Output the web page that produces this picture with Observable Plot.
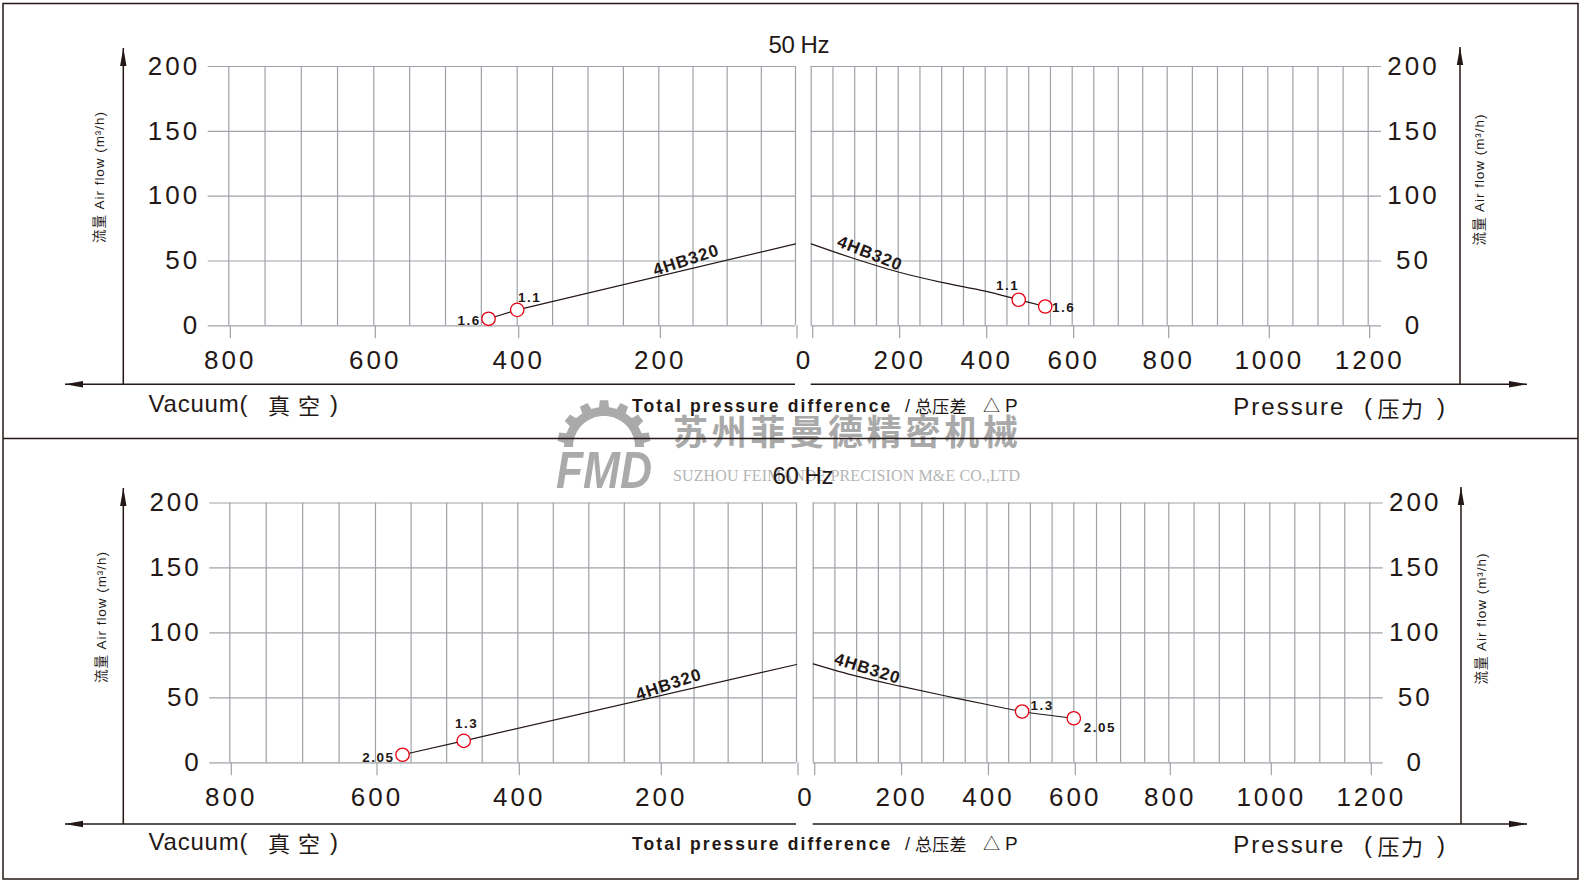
<!DOCTYPE html>
<html lang="zh">
<head>
<meta charset="utf-8">
<title>4HB320 风量曲线</title>
<script src="https://cdn.jsdelivr.net/npm/d3@7"></script>
<script src="https://cdn.jsdelivr.net/npm/@observablehq/plot@0.6"></script>
<style>
  html, body { margin: 0; padding: 0; background: #fff; }
  #chart { position: relative; width: 1581px; height: 881px; overflow: hidden; background: #fff;
           font-family: "Liberation Sans", Arial, "Noto Sans CJK SC", sans-serif; }
  #chart svg { position: absolute; }
  #chart g[aria-label$="tick label"] { letter-spacing: 3px; }
  #chart g[font-size="13.5"] { letter-spacing: 1.5px; }
  #chart g[font-size="17"] { letter-spacing: 1px; }
</style>
</head>
<body>
<div id="chart"></div>
<script>
const ink = "#231815";
const gridColor = "#9ea2a8";
const markerRed = "#e60012";
const fontStack = '"Liberation Sans", Arial, "Noto Sans CJK SC", sans-serif';

// ---- axes ----
const flowTicks = [0, 50, 100, 150, 200];
const vacuumTickLabels = [800, 600, 400, 200, 0];
const pressureTickLabels = [0, 200, 400, 600, 800, 1000, 1200];
const vacuumGrid = d3.range(0, 801, 50);
const pressureGrid = d3.range(0, 1201, 50);

const model = "4HB320";

// ---- 50 Hz: pressure difference vs air flow (m³/h) ----
const vacuum50 = [0, 400, 440];
const vacuumFlow50 = [63.2, 12.3, 5.4];
const vacuumRated50 = [400, 440];
const vacuumPower50 = ["1.1", "1.6"];

const pressure50 = [0, 100, 200, 300, 400, 477, 538];
const pressureFlow50 = [63.2, 51.7, 41.5, 33.5, 26.7, 20.1, 14.9];
const pressureRated50 = [477, 538];
const pressurePower50 = ["1.1", "1.6"];

// ---- 60 Hz ----
const vacuum60 = [0, 476, 562];
const vacuumFlow60 = [75.7, 16.9, 6.2];
const vacuumRated60 = [476, 562];
const vacuumPower60 = ["1.3", "2.05"];

const pressure60 = [0, 100, 200, 300, 400, 481, 600];
const pressureFlow60 = [76.2, 66.7, 59, 51.8, 44.9, 39.5, 34.3];
const pressureRated60 = [481, 600];
const pressurePower60 = ["1.3", "2.05"];

// ---- page layout ----
const W = 1581, H = 881, splitX = 803, splitY = 438;
const chart = d3.select("#chart");

// background layer: watermark, border, axis arrows, titles
const deco = chart.append("svg").attr("width", W).attr("height", H)
  .style("left", "0px").style("top", "0px");

// watermark (company logo and name)
const wm = deco.append("g").attr("fill", "#aaaaaa");
{
  const cx = 604, cy = 447, Ro = 47, Rt = 40, Ri = 31, n = 7, pitch = Math.PI / n;
  const pts = [];
  for (let i = 0; i < n; i++) {
    const a0 = Math.PI + i * pitch;
    const seg = [[a0, Rt], [a0 + pitch * 0.22, Rt], [a0 + pitch * 0.3, Ro], [a0 + pitch * 0.7, Ro], [a0 + pitch * 0.78, Rt]];
    for (const [a, r] of seg) pts.push([cx + r * Math.cos(a), cy + r * Math.sin(a)]);
  }
  pts.push([cx + Rt, cy]);
  for (let k = 0; k <= 36; k++) {
    const a = 2 * Math.PI - (k / 36) * Math.PI;
    pts.push([cx + Ri * Math.cos(a), cy + Ri * Math.sin(a)]);
  }
  wm.append("path").attr("d", "M" + pts.map(p => p.join(",")).join("L") + "Z");
  wm.append("text").attr("x", 556).attr("y", 488).attr("font-size", 52).attr("font-weight", "bold")
    .attr("font-style", "italic").attr("textLength", 96).attr("lengthAdjust", "spacingAndGlyphs")
    .attr("font-family", '"Liberation Sans", Arial, sans-serif').text("FMD");
  wm.append("text").attr("x", 673).attr("y", 445).attr("font-size", 35).attr("font-weight", "bold")
    .attr("fill", "#a9a9a9").attr("textLength", 345).attr("font-family", '"Noto Sans CJK SC", sans-serif')
    .text("苏州菲曼德精密机械");
  wm.append("text").attr("x", 673).attr("y", 481).attr("font-size", 16).attr("fill", "#b5b5b5")
    .attr("textLength", 347).attr("font-family", '"Liberation Serif", "Times New Roman", serif')
    .text("SUZHOU FEIMANDE PRECISION M&E CO.,LTD");
}

// outer border and panel separator
deco.append("rect").attr("x", 3).attr("y", 3.5).attr("width", 1575).attr("height", 875.5)
  .attr("fill", "none").attr("stroke", ink).attr("stroke-width", 1.5);
deco.append("line").attr("x1", 3).attr("x2", 1578).attr("y1", 438.5).attr("y2", 438.5)
  .attr("stroke", ink).attr("stroke-width", 1.4);

function arrowHead(x, y, dir) {
  const L = 18, w = 3.2;
  const p = dir === "up" ? [[x, y], [x - w, y + L], [x + w, y + L]]
          : dir === "left" ? [[x, y], [x + L, y - w], [x + L, y + w]]
          : [[x, y], [x - L, y - w], [x - L, y + w]];
  deco.append("path").attr("d", "M" + p.map(q => q.join(",")).join("L") + "Z").attr("fill", ink);
}
function seg(x1, y1, x2, y2) {
  deco.append("line").attr("x1", x1).attr("y1", y1).attr("x2", x2).attr("y2", y2)
    .attr("stroke", ink).attr("stroke-width", 1.5);
}
// one text element built from positioned runs
function runs(y, size, parts, o = {}) {
  const t = deco.append("text").attr("y", y).attr("fill", ink).attr("font-size", size)
    .attr("font-family", fontStack);
  if (o.anchor) t.attr("text-anchor", o.anchor);
  for (const p of parts) {
    const s = t.append("tspan").attr("x", p.x).text(p.s);
    if (p.size) s.attr("font-size", p.size);
    if (p.weight) s.attr("font-weight", p.weight);
    if (p.ls !== undefined) s.attr("letter-spacing", p.ls);
    if (p.dy !== undefined) s.attr("dy", p.dy);
  }
  return t;
}

const panelFrames = [
  {hz: "50 Hz", hzX: 799, hzY: 53, axisY: 384.3, tipL: 48, tipR: 47, leftEnd: 795, rightStart: 810.7,
   axL: 123.3, axR: 1460, vacBase: 411.5, totBase: 412, presBase: 415, flowTitle: [[99, 177.5], [1479, 180]]},
  {hz: "60 Hz", hzX: 803, hzY: 484, axisY: 824, tipL: 488, tipR: 487, leftEnd: 796, rightStart: 812.7,
   axL: 123.3, axR: 1461, vacBase: 850, totBase: 849.5, presBase: 853, flowTitle: [[101, 617.5], [1481, 619]]}
];

for (const f of panelFrames) {
  // axis lines with arrows
  seg(65, f.axisY, f.leftEnd, f.axisY); arrowHead(65, f.axisY, "left");
  seg(f.rightStart, f.axisY, 1527, f.axisY); arrowHead(1527, f.axisY, "right");
  seg(f.axL, f.tipL, f.axL, f.axisY); arrowHead(f.axL, f.tipL, "up");
  seg(f.axR, f.tipR, f.axR, f.axisY); arrowHead(f.axR, f.tipR, "up");

  // frequency title
  deco.append("text").attr("x", f.hzX).attr("y", f.hzY).attr("text-anchor", "middle")
    .attr("font-size", 24).attr("font-family", fontStack).attr("fill", ink)
    .attr("textLength", 61).attr("lengthAdjust", "spacing").text(f.hz);

  // bottom titles
  runs(f.vacBase, 24, [
    {s: "Vacuum(", x: 148.5, ls: 0.8},
    {s: "真", x: 268, size: 22, dy: 2},
    {s: "空", x: 298, size: 22},
    {s: ")", x: 330, dy: -2}
  ]);
  runs(f.totBase, 17.5, [
    {s: "Total pressure difference", x: 632, weight: "bold", ls: 2.1},
    {s: "/", x: 905, size: 18},
    {s: "总压差", x: 915, size: 17, ls: 0.3, dy: 1},
    {s: "△", x: 983, size: 17, dy: -1},
    {s: "P", x: 1005, size: 19}
  ]);
  runs(f.presBase, 24, [
    {s: "Pressure", x: 1233.3, ls: 2},
    {s: "(", x: 1364},
    {s: "压", x: 1377.5, size: 22, dy: 2},
    {s: "力", x: 1401, size: 22},
    {s: ")", x: 1437, dy: -2}
  ]);

  // airflow titles, rotated
  for (const [cx, cy] of f.flowTitle) {
    deco.append("text").attr("transform", `translate(${cx},${cy}) rotate(-90)`)
      .attr("text-anchor", "middle").attr("dominant-baseline", "central")
      .attr("font-size", 13.5).attr("font-family", fontStack).attr("fill", ink)
      .attr("textLength", 131).attr("lengthAdjust", "spacing")
      .text("流量 Air flow (m³/h)");
  }
}

// ---- one Plot per half panel ----
function sidePlot(cfg) {
  const {box, xDomain, xRange, frame, yRange, grid, ticks, zeroDx, yAnchor,
         xs, ys, curve, rated, power, placements, modelAt, modelRotate} = cfg;
  const [bx, by, bw, bh] = box;
  const line = xs.map((x, i) => ({x, y: ys[i]}));
  const points = rated.map((x, i) => ({x, y: ys[xs.indexOf(x)], label: power[i]}));
  const flowAt = d3.scaleLinear().domain(xs).range(ys);
  const fmt = d => (d === 0 ? "" : String(d));
  const marks = [
    Plot.gridX(grid, {stroke: gridColor, strokeOpacity: 1, strokeWidth: 1.2}),
    Plot.gridY(flowTicks, {stroke: gridColor, strokeOpacity: 1, strokeWidth: 1.2}),
    Plot.axisX(ticks, {anchor: "bottom", tickSize: 13, tickPadding: 12, fontSize: 26, stroke: gridColor,
      strokeWidth: 1.2, fill: ink, dx: 1.5, label: null, tickFormat: fmt}),
    Plot.axisY(flowTicks, {anchor: yAnchor, tickSize: 0, tickPadding: yAnchor === "left" ? 8 : 32,
      textAnchor: yAnchor === "left" ? "end" : "middle", fontSize: 26, fill: ink, label: null,
      tickFormat: d => String(d)}),
    Plot.line(line, {x: "x", y: "y", curve, stroke: ink, strokeWidth: 1.2}),
    Plot.dot(points, {x: "x", y: "y", r: 6.7, stroke: markerRed, strokeWidth: 1.3, fill: "white"}),
    ...points.map((p, i) => Plot.text([p], {x: "x", y: "y", text: "label", fontSize: 13.5,
      fontWeight: "bold", fill: ink, ...placements[i]})),
    Plot.text([{x: modelAt, y: flowAt(modelAt)}], {x: "x", y: "y", text: () => model, rotate: modelRotate,
      dy: -10, fontSize: 17, fontWeight: "bold", fill: ink})
  ];
  if (zeroDx !== undefined) {
    marks.push(Plot.axisX([0], {anchor: "bottom", tickSize: 0, tickPadding: 25, fontSize: 26, fill: ink,
      dx: zeroDx, label: null, tickFormat: d => String(d)}));
  }
  const svg = Plot.plot({
    width: bw, height: bh,
    marginLeft: frame[0] - bx, marginRight: bx + bw - frame[1],
    marginTop: yRange[1] - by, marginBottom: by + bh - yRange[0],
    x: {type: "linear", domain: xDomain, range: xRange.map(v => v - bx), label: null},
    y: {type: "linear", domain: [0, 200], range: yRange.map(v => v - by), label: null},
    style: {background: "transparent", overflow: "visible", fontFamily: fontStack, color: ink},
    marks
  });
  svg.style.left = bx + "px";
  svg.style.top = by + "px";
  chart.node().appendChild(svg);
}

// the printed grids are not evenly spaced, so the x scales are piecewise
const vacDomain = [800, 600, 400, 200, 0];
const presDomain = [0, 600, 650, 800, 1000, 1200];

// 50 Hz, vacuum
sidePlot({
  box: [0, 0, splitX, splitY], xDomain: vacDomain, xRange: [228.3, 373.3, 516.7, 658.3, 795],
  frame: [207.7, 795], yRange: [325.3, 66], grid: vacuumGrid, ticks: vacuumTickLabels, zeroDx: 9,
  yAnchor: "left", xs: vacuum50, ys: vacuumFlow50, curve: "linear",
  rated: vacuumRated50, power: vacuumPower50,
  placements: [{textAnchor: "start", dx: 0.7, dy: -12}, {textAnchor: "end", dx: -7.8, dy: 2}],
  modelAt: 160, modelRotate: -18
});
// 50 Hz, pressure
sidePlot({
  box: [splitX, 0, W - splitX, splitY], xDomain: presDomain,
  xRange: [810.7, 1071.7, 1093.3, 1166.7, 1267.3, 1367.7],
  frame: [810.7, 1381], yRange: [325.3, 66], grid: pressureGrid, ticks: pressureTickLabels,
  yAnchor: "right", xs: pressure50, ys: pressureFlow50, curve: "catmull-rom",
  rated: pressureRated50, power: pressurePower50,
  placements: [{textAnchor: "end", dx: 0.5, dy: -14.3}, {textAnchor: "start", dx: 6.7, dy: 0.7}],
  modelAt: 135, modelRotate: 21.5
});
// 60 Hz, vacuum
sidePlot({
  box: [0, splitY, splitX, H - splitY], xDomain: vacDomain, xRange: [229.3, 375, 517.3, 659.3, 796],
  frame: [209.3, 796], yRange: [762.3, 502.5], grid: vacuumGrid, ticks: vacuumTickLabels, zeroDx: 9.5,
  yAnchor: "left", xs: vacuum60, ys: vacuumFlow60, curve: "linear",
  rated: vacuumRated60, power: vacuumPower60,
  placements: [{textAnchor: "middle", dx: 2.9, dy: -17}, {textAnchor: "end", dx: -7.9, dy: 3}],
  modelAt: 187, modelRotate: -18.4
});
// 60 Hz, pressure
sidePlot({
  box: [splitX, splitY, W - splitX, H - splitY], xDomain: presDomain,
  xRange: [812.7, 1073.3, 1096, 1168.3, 1269.3, 1369.3],
  frame: [812.7, 1382.7], yRange: [762.3, 502.5], grid: pressureGrid, ticks: pressureTickLabels,
  yAnchor: "right", xs: pressure60, ys: pressureFlow60, curve: "catmull-rom",
  rated: pressureRated60, power: pressurePower60,
  placements: [{textAnchor: "start", dx: 8.3, dy: -5.7}, {textAnchor: "start", dx: 10, dy: 9}],
  modelAt: 125, modelRotate: 17.2
});
</script>
</body>
</html>
